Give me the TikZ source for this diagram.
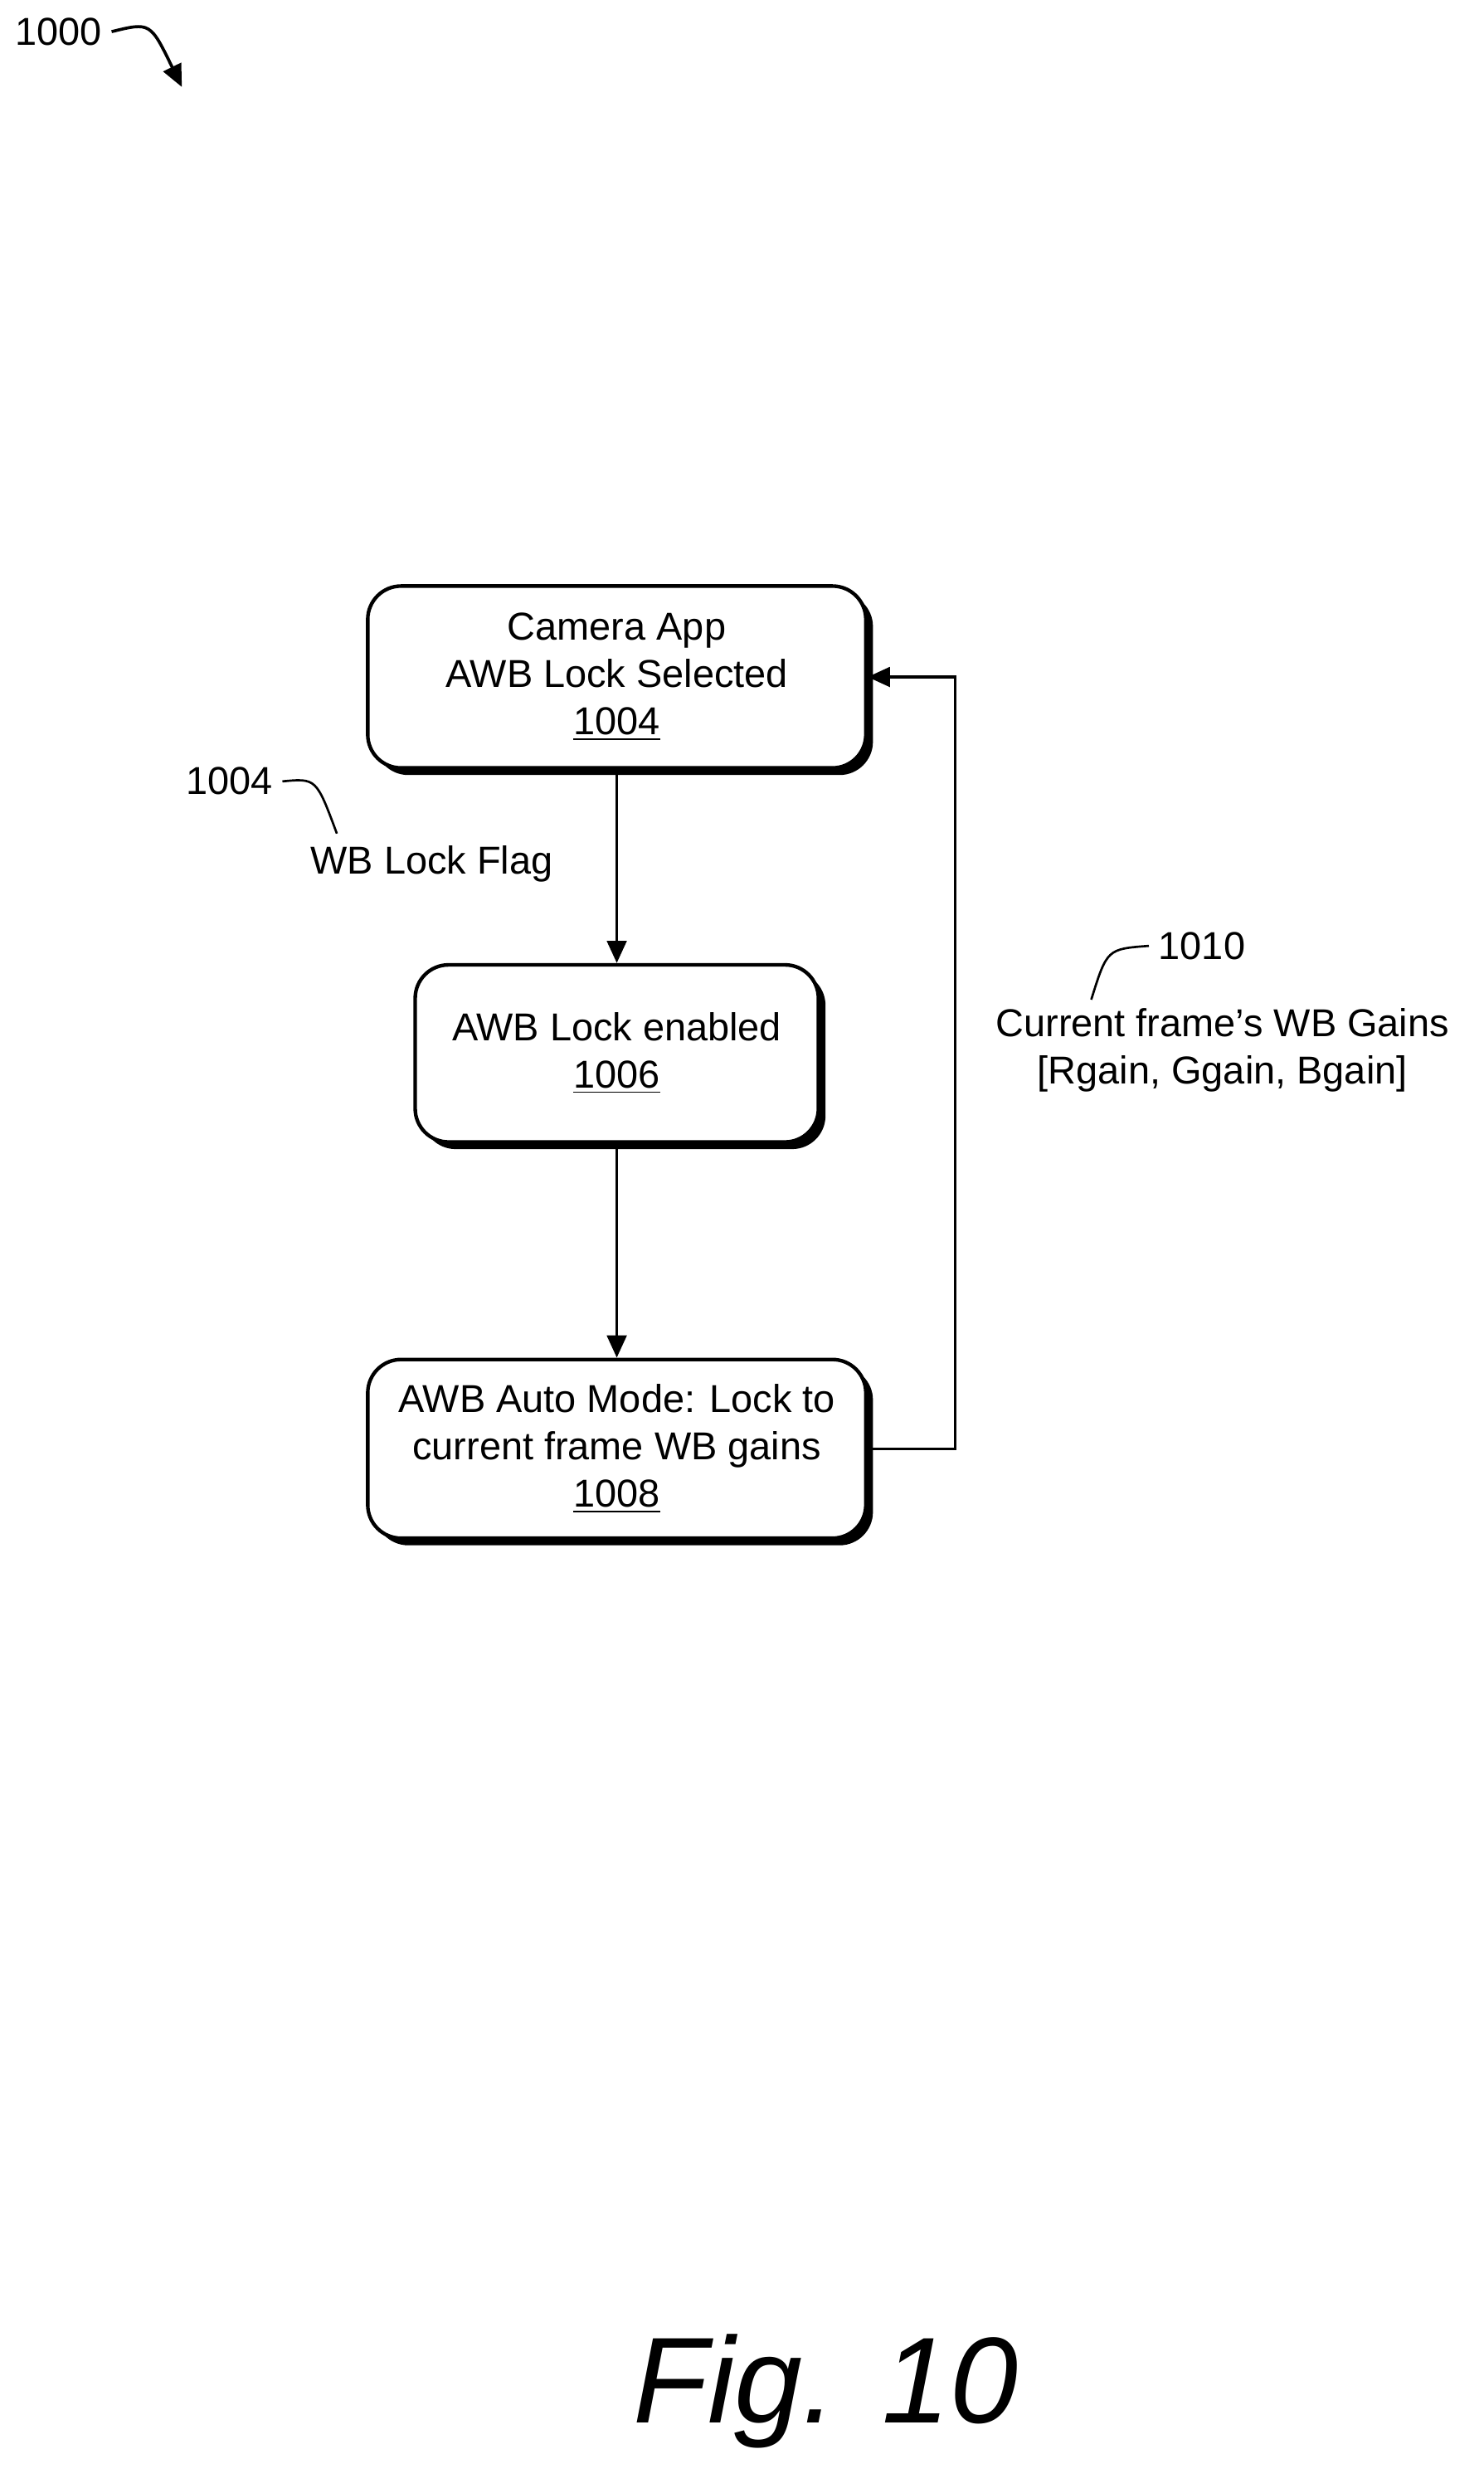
\documentclass[tikz,border=0pt]{standalone}
\usepackage{fontspec}
\setmainfont{Liberation Sans}
\usetikzlibrary{shadows,arrows.meta}

\tikzset{
  stepbox/.style={draw, line width=1.3pt, rounded corners=12pt, fill=white, align=center,
    font=\fontsize{14}{17}\selectfont,
    drop shadow={fill=black, opacity=1, shadow xshift=0.09cm, shadow yshift=-0.09cm}},
  flow/.style={line width=1.1pt, -{Triangle[length=8pt,width=7pt]}},
  lbl/.style={font=\fontsize{14}{17}\selectfont, align=center}
}

\begin{document}
\begin{tikzpicture}[x=0.02cm, y=-0.02cm]
    \useasboundingbox (0,0) rectangle (938,1573);
    % reference numeral
    \node[lbl] (fignum) at (37,20) {1000};
    \draw[flow] (fignum.east) .. controls (95,14) .. (115,55);

    % steps
    \node[stepbox, minimum width=6.3cm, minimum height=2.3cm] (app) at (390,428)
        {Camera App\\AWB Lock Selected\\\underline{1004}};
    \node[stepbox, minimum width=5.1cm, minimum height=2.24cm] (lock) at (390,666)
        {AWB Lock enabled\\\underline{1006}};
    \node[stepbox, minimum width=6.3cm, minimum height=2.26cm] (auto) at (390,916)
        {AWB Auto Mode: Lock to\\current frame WB gains\\\underline{1008}};

    \draw[flow] (app) -- (lock);
    \draw[flow] (lock) -- (auto);
    \coordinate (turn) at (604,916);
    \draw[flow] (auto.east) -- (turn) |- (app.east);

    % annotations
    \node[lbl] (flagnum) at (145,494) {1004};
    \node[lbl] (flag) at (273,546) {WB Lock Flag};
    \draw[line width=0.8pt] (flagnum.east) .. controls (200,492) .. (213,527);
    \node[lbl] (gainnum) at (760,598) {1010};
    \node[lbl] (gains) at (773,664) {Current frame's WB Gains\\{[Rgain, Ggain, Bgain]}};
    \draw[line width=0.8pt] (690,632) .. controls (700,600) .. (gainnum.west);

    \node[font=\fontsize{44}{50}\selectfont\itshape] (fig) at (522,1512) {Fig. 10};
\end{tikzpicture}
\end{document}
